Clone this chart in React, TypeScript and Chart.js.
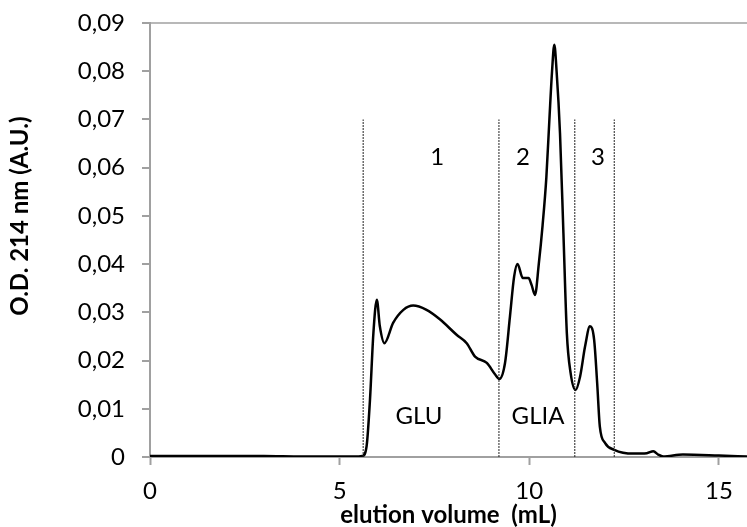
import React, { useEffect, useRef } from "react";
import { Chart, registerables } from "chart.js";

Chart.register(...registerables);

const elutionX = [0, 1, 2, 3, 4, 5, 5.5, 5.6, 5.71, 5.8, 5.89, 5.98, 6.06, 6.18, 6.41, 6.68, 6.94, 7.29, 7.65, 8.09, 8.35, 8.57, 8.88, 9.1, 9.21, 9.36, 9.49, 9.6, 9.69, 9.83, 9.98, 10.06, 10.15, 10.25, 10.35, 10.45, 10.53, 10.6, 10.66, 10.72, 10.81, 10.9, 10.99, 11.09, 11.22, 11.34, 11.47, 11.6, 11.71, 11.79, 11.86, 12.0, 12.24, 12.74, 13.1, 13.27, 13.4, 13.53, 14.05, 15.0, 15.74];
const odValues = [0.0002, 0.0002, 0.0002, 0.0002, 0.0001, 0.0001, 0.0001, 0.0002, 0.0022, 0.0119, 0.0257, 0.0326, 0.0271, 0.0236, 0.0278, 0.0305, 0.0314, 0.0305, 0.0285, 0.0253, 0.0236, 0.0208, 0.0195, 0.0171, 0.0162, 0.0195, 0.0291, 0.0374, 0.04, 0.0371, 0.0371, 0.0357, 0.0336, 0.04, 0.048, 0.058, 0.07, 0.08, 0.0855, 0.08, 0.0671, 0.0464, 0.0257, 0.0174, 0.0139, 0.0167, 0.0229, 0.0271, 0.0243, 0.0153, 0.0063, 0.0029, 0.0015, 0.0007, 0.0008, 0.0012, 0.0005, 0.0001, 0.0005, 0.0003, 0.0001];

const dividerX = [5.62, 9.2, 11.2, 12.24];
const dividerTop = 0.07;

const regionLabels = ["1", "2", "3", "GLU", "GLIA"];
const regionLabelX = [7.57, 9.83, 11.81, 7.09, 10.23];
const regionLabelY = [0.0622, 0.0622, 0.0622, 0.0084, 0.0084];

const yTitle = "O.D. 214 nm (A.U.)";
const xTitle = "elution volume  (mL)";

const xMin = 0;
const xMax = 15.74;
const yMin = 0;
const yMax = 0.09;

const FONT = "Lato";

const textPlugin = {
  id: "texts",
  afterDatasetsDraw(chart: any) {
    const { ctx, scales, chartArea } = chart;
    ctx.save();
    ctx.fillStyle = "#000";
    ctx.font = `24px ${FONT}`;
    ctx.textAlign = "center";
    ctx.textBaseline = "middle";
    regionLabels.forEach((t, i) => {
      ctx.fillText(t, scales.x.getPixelForValue(regionLabelX[i]), scales.y.getPixelForValue(regionLabelY[i]));
    });
    // y axis title
    ctx.font = `bold 24px ${FONT}`;
    ctx.translate(20, chartArea.top + (chartArea.bottom - chartArea.top) * 0.445);
    ctx.rotate(-Math.PI / 2);
    ctx.fillText(yTitle, 0, 0);
    ctx.restore();
  },
};

export default function App() {
  const ref = useRef<HTMLCanvasElement>(null);
  useEffect(() => {
    document.body.style.margin = "0";
    const curve = elutionX.map((x, i) => ({ x, y: odValues[i] }));
    const dividers = dividerX.map((x) => ({
      type: "line" as const,
      data: [{ x, y: 0 }, { x, y: dividerTop }],
      borderColor: "#222",
      borderWidth: 1,
      borderDash: [2, 1],
      pointRadius: 0,
      tension: 0,
    }));
    const chart = new Chart(ref.current!, {
      type: "line",
      data: {
        datasets: [
          ...dividers,
          {
            data: curve,
            borderColor: "#000",
            borderWidth: 2.5,
            pointRadius: 0,
            cubicInterpolationMode: "monotone",
          } as any,
        ],
      },
      options: {
        animation: false,
        responsive: false,
        events: [],
        layout: { padding: { top: 23, right: 0, left: 0, bottom: 0 } },
        plugins: { legend: { display: false }, tooltip: { enabled: false } },
        scales: {
          x: {
            type: "linear",
            min: xMin,
            max: xMax,
            afterFit: (s: any) => { s.height = 70; s.paddingLeft = 0; s.paddingRight = 0; },
            ticks: {
              stepSize: 5,
              includeBounds: false,
              color: "#000",
              font: { family: FONT, size: 24 },
              padding: 12,
              maxRotation: 0,
            },
            grid: { drawOnChartArea: false, drawTicks: true, tickLength: 8, tickColor: "#a0a0a0", tickWidth: 2 },
            border: { color: "#a0a0a0", width: 2 },
            title: {
              display: true,
              text: xTitle,
              color: "#000",
              font: { family: FONT, size: 24, weight: "bold", lineHeight: 1 },
              padding: { top: 0, bottom: 0 },
            },
          },
          y: {
            type: "linear",
            min: yMin,
            max: yMax,
            afterFit: (s: any) => { s.width = 150; s.paddingTop = 0; s.paddingBottom = 0; },
            ticks: {
              stepSize: 0.01,
              color: "#000",
              font: { family: FONT, size: 24 },
              padding: 17,
              callback: (v: any) => (Number(v) === 0 ? "0" : Number(v).toFixed(2).replace(".", ",")),
            },
            grid: {
              drawOnChartArea: true,
              drawTicks: true,
              tickLength: 8,
              tickColor: "#a0a0a0",
              tickWidth: 2,
              color: (c: any) => (c.tick && Math.abs(c.tick.value - yMax) < 1e-9 ? "#b8b8b8" : "rgba(0,0,0,0)"),
              lineWidth: 2,
            },
            border: { color: "#a0a0a0", width: 2 },
            title: { display: false },
          },
        },
      },
      plugins: [textPlugin],
    });
    return () => chart.destroy();
  }, []);
  return (
    <div style={{ width: 747, height: 527 }}>
      <canvas ref={ref} width={747} height={527} style={{ display: "block" }} />
    </div>
  );
}
